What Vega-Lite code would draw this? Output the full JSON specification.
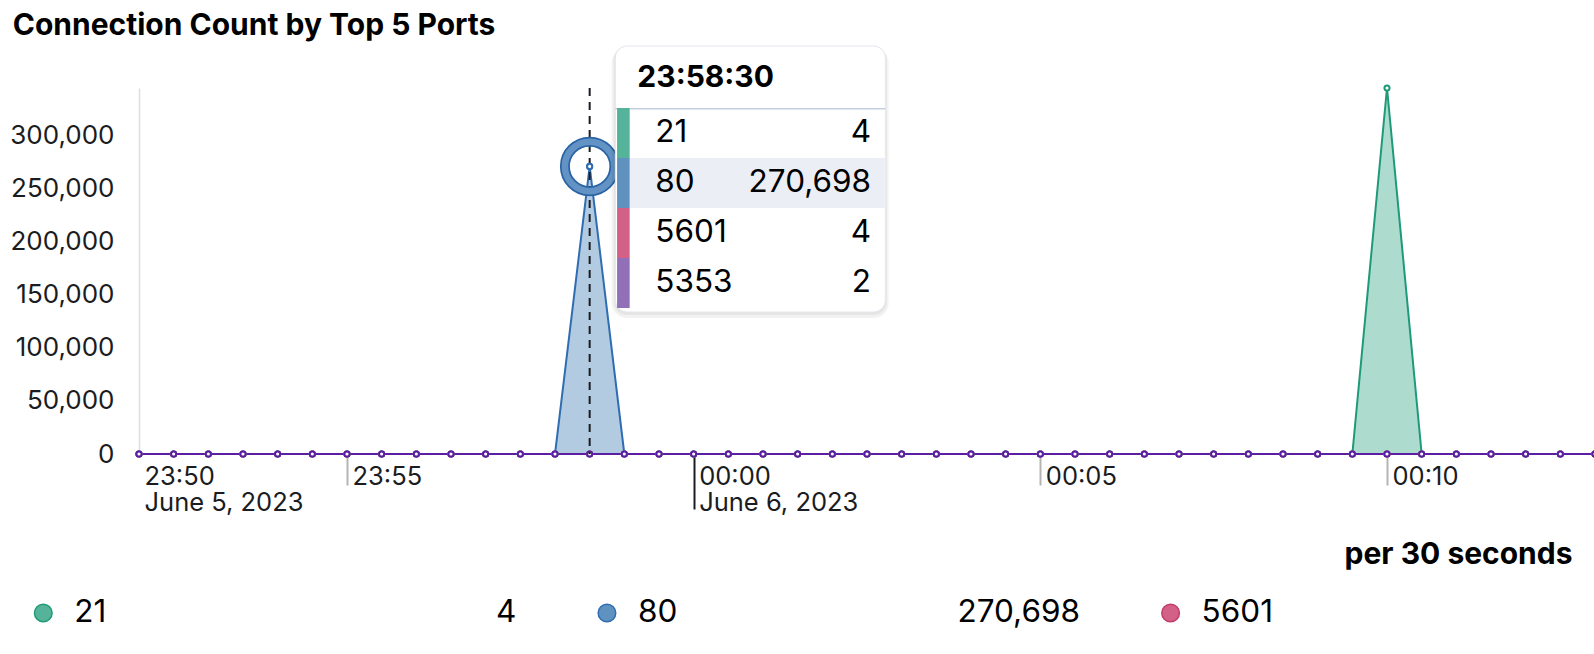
{
  "$schema": "https://vega.github.io/schema/vega-lite/v6.json",
  "background": "white",
  "padding": {"left": 9, "top": 11, "right": 0, "bottom": 0},
  "config": {
    "view": {"stroke": null},
    "font": "Inter",
    "text": {"font": "Inter", "color": "#1a1c21"}
  },
  "title": {"text": "Connection Count by Top 5 Ports", "anchor": "start", "frame": "bounds", "fontSize": 30, "fontWeight": "bold", "color": "#000000", "font": "Inter", "offset": 4.5, "dx": 3},
  "datasets": {
    "counts": [
      {"t": "2023-06-05T23:52:00", "21": 3, "80": 6, "5601": 4, "5353": 2},
      {"t": "2023-06-05T23:52:30", "21": 4, "80": 5, "5601": 4, "5353": 2},
      {"t": "2023-06-05T23:53:00", "21": 4, "80": 7, "5601": 4, "5353": 2},
      {"t": "2023-06-05T23:53:30", "21": 3, "80": 6, "5601": 4, "5353": 2},
      {"t": "2023-06-05T23:54:00", "21": 4, "80": 5, "5601": 4, "5353": 3},
      {"t": "2023-06-05T23:54:30", "21": 4, "80": 8, "5601": 4, "5353": 2},
      {"t": "2023-06-05T23:55:00", "21": 5, "80": 6, "5601": 4, "5353": 2},
      {"t": "2023-06-05T23:55:30", "21": 4, "80": 5, "5601": 4, "5353": 2},
      {"t": "2023-06-05T23:56:00", "21": 4, "80": 6, "5601": 4, "5353": 2},
      {"t": "2023-06-05T23:56:30", "21": 3, "80": 7, "5601": 4, "5353": 2},
      {"t": "2023-06-05T23:57:00", "21": 4, "80": 6, "5601": 4, "5353": 3},
      {"t": "2023-06-05T23:57:30", "21": 4, "80": 5, "5601": 4, "5353": 2},
      {"t": "2023-06-05T23:58:00", "21": 4, "80": 9, "5601": 4, "5353": 2},
      {"t": "2023-06-05T23:58:30", "21": 4, "80": 270698, "5601": 4, "5353": 2},
      {"t": "2023-06-05T23:59:00", "21": 4, "80": 12, "5601": 4, "5353": 2},
      {"t": "2023-06-05T23:59:30", "21": 3, "80": 6, "5601": 4, "5353": 2},
      {"t": "2023-06-06T00:00:00", "21": 4, "80": 5, "5601": 4, "5353": 2},
      {"t": "2023-06-06T00:00:30", "21": 4, "80": 6, "5601": 4, "5353": 2},
      {"t": "2023-06-06T00:01:00", "21": 5, "80": 7, "5601": 4, "5353": 2},
      {"t": "2023-06-06T00:01:30", "21": 4, "80": 5, "5601": 4, "5353": 3},
      {"t": "2023-06-06T00:02:00", "21": 4, "80": 6, "5601": 4, "5353": 2},
      {"t": "2023-06-06T00:02:30", "21": 3, "80": 6, "5601": 4, "5353": 2},
      {"t": "2023-06-06T00:03:00", "21": 4, "80": 8, "5601": 4, "5353": 2},
      {"t": "2023-06-06T00:03:30", "21": 4, "80": 5, "5601": 4, "5353": 2},
      {"t": "2023-06-06T00:04:00", "21": 4, "80": 6, "5601": 4, "5353": 2},
      {"t": "2023-06-06T00:04:30", "21": 5, "80": 7, "5601": 4, "5353": 3},
      {"t": "2023-06-06T00:05:00", "21": 4, "80": 6, "5601": 4, "5353": 2},
      {"t": "2023-06-06T00:05:30", "21": 4, "80": 5, "5601": 4, "5353": 2},
      {"t": "2023-06-06T00:06:00", "21": 3, "80": 6, "5601": 4, "5353": 2},
      {"t": "2023-06-06T00:06:30", "21": 4, "80": 7, "5601": 4, "5353": 2},
      {"t": "2023-06-06T00:07:00", "21": 4, "80": 6, "5601": 4, "5353": 2},
      {"t": "2023-06-06T00:07:30", "21": 4, "80": 5, "5601": 4, "5353": 3},
      {"t": "2023-06-06T00:08:00", "21": 5, "80": 6, "5601": 4, "5353": 2},
      {"t": "2023-06-06T00:08:30", "21": 4, "80": 8, "5601": 4, "5353": 2},
      {"t": "2023-06-06T00:09:00", "21": 4, "80": 6, "5601": 4, "5353": 2},
      {"t": "2023-06-06T00:09:30", "21": 6, "80": 5, "5601": 4, "5353": 2},
      {"t": "2023-06-06T00:10:00", "21": 344500, "80": 6, "5601": 4, "5353": 2},
      {"t": "2023-06-06T00:10:30", "21": 7, "80": 6, "5601": 4, "5353": 2},
      {"t": "2023-06-06T00:11:00", "21": 4, "80": 5, "5601": 4, "5353": 3},
      {"t": "2023-06-06T00:11:30", "21": 4, "80": 7, "5601": 4, "5353": 2},
      {"t": "2023-06-06T00:12:00", "21": 3, "80": 6, "5601": 4, "5353": 2},
      {"t": "2023-06-06T00:12:30", "21": 4, "80": 5, "5601": 4, "5353": 2},
      {"t": "2023-06-06T00:13:00", "21": 4, "80": 6, "5601": 4, "5353": 2}
    ]
  },
  "spacing": 28,
  "vconcat": [
    {
      "width": 1456,
      "height": 366,
      "data": {"name": "counts", "format": {"parse": {"t": "date"}}},
      "resolve": {"scale": {"y": "independent"}, "axis": {"y": "independent"}},
      "layer": [
        {
          "transform": [{"fold": ["21", "80", "5601", "5353"], "as": ["port", "count"]}],
          "layer": [
            {
              "mark": {"type": "area", "fillOpacity": 0.48},
              "encoding": {
                "x": {
                  "field": "t", "type": "temporal",
                  "scale": {"domain": [{"year": 2023, "month": 6, "date": 5, "hours": 23, "minutes": 52}, {"year": 2023, "month": 6, "date": 6, "hours": 0, "minutes": 13}]},
                  "axis": {
                    "values": [
                      {"year": 2023, "month": 6, "date": 5, "hours": 23, "minutes": 52},
                      {"year": 2023, "month": 6, "date": 5, "hours": 23, "minutes": 55},
                      {"year": 2023, "month": 6, "date": 6, "hours": 0, "minutes": 0},
                      {"year": 2023, "month": 6, "date": 6, "hours": 0, "minutes": 5},
                      {"year": 2023, "month": 6, "date": 6, "hours": 0, "minutes": 10}
                    ],
                    "labelExpr": "minutes(datum.value) % 5 != 0 ? [timeFormat(datum.value - (minutes(datum.value) % 5) * 60000, '%H:%M'), timeFormat(datum.value, '%B %-d, %Y')] : (hours(datum.value) == 0 && minutes(datum.value) == 0 ? [timeFormat(datum.value, '%H:%M'), timeFormat(datum.value, '%B %-d, %Y')] : timeFormat(datum.value, '%H:%M'))",
                    "labelAlign": "left", "labelBaseline": "top", "labelOffset": 5, "labelPadding": -45,
                    "labelLineHeight": 26, "labelFontSize": 25.5, "labelColor": "#1a1c21", "labelFont": "Inter",
                    "labelFlush": false, "labelOverlap": false, "labelBound": false,
                    "tickSize": 55, "tickWidth": 2,
                    "tickColor": {"condition": {"test": "hours(datum.value) == 0 && minutes(datum.value) == 0", "value": "#1a1c21"}, "value": "#b4b4b4"},
                    "tickDash": {"condition": {"test": "hours(datum.value) == 0 && minutes(datum.value) == 0", "value": [60, 0]}, "value": [31, 100]},
                    "tickOpacity": {"condition": {"test": "minutes(datum.value) % 5 != 0", "value": 0}, "value": 1},
                    "domain": false, "grid": false,
                    "title": "per 30 seconds", "titleFontSize": 30, "titleFontWeight": "bold", "titleColor": "#000000", "titleFont": "Inter",
                    "titleAnchor": "end", "titleAlign": "right", "titleX": 1433, "titleY": 100, "titleBaseline": "middle"
                  }
                },
                "y": {
                  "field": "count", "type": "quantitative", "stack": null,
                  "scale": {"nice": false, "zero": true},
                  "axis": {
                    "values": [0, 50000, 100000, 150000, 200000, 250000, 300000],
                    "labelExpr": "format(datum.value, ',')",
                    "ticks": false, "tickSize": 0, "labelPadding": 25,
                    "labelFontSize": 26, "labelColor": "#1a1c21", "labelFont": "Inter",
                    "domain": true, "domainColor": "#d9dee8", "domainWidth": 1.5,
                    "grid": false, "title": null, "minExtent": 125, "maxExtent": 125
                  }
                },
                "fill": {"field": "port", "type": "nominal", "scale": {"domain": ["21", "80", "5601", "5353"], "range": ["#54B399", "#6092C0", "#D36086", "#9170B8"]}, "legend": null}
              }
            },
            {
              "mark": {"type": "line", "strokeWidth": 2},
              "encoding": {
                "x": {"field": "t", "type": "temporal"},
                "y": {"field": "count", "type": "quantitative", "stack": null},
                "stroke": {"field": "port", "type": "nominal", "scale": {"domain": ["21", "80", "5601", "5353"], "range": ["#1f9a78", "#2f6db2", "#c43b6d", "#5c1fa3"]}, "legend": null}
              }
            },
            {
              "mark": {"type": "point", "shape": "circle", "filled": false, "fill": "white", "fillOpacity": 1, "size": 26, "strokeWidth": 2, "opacity": 1},
              "encoding": {
                "x": {"field": "t", "type": "temporal"},
                "y": {"field": "count", "type": "quantitative", "stack": null},
                "stroke": {"field": "port", "type": "nominal", "legend": null}
              }
            },
            {
              "transform": [
                {"filter": {"field": "t", "equal": {"year": 2023, "month": 6, "date": 5, "hours": 23, "minutes": 58, "seconds": 30}}},
                {"filter": "datum.port == '80'"}
              ],
              "mark": {"type": "rule", "strokeDash": [8, 6], "strokeWidth": 2, "color": "#1a1c21"},
              "encoding": {"x": {"field": "t", "type": "temporal"}}
            },
            {
              "transform": [
                {"filter": {"field": "t", "equal": {"year": 2023, "month": 6, "date": 5, "hours": 23, "minutes": 58, "seconds": 30}}},
                {"filter": "datum.port == '80'"}
              ],
              "mark": {"type": "point", "shape": "circle", "filled": false, "size": 2450, "strokeWidth": 10, "stroke": "#2a64a4", "opacity": 1},
              "encoding": {"x": {"field": "t", "type": "temporal"}, "y": {"field": "count", "type": "quantitative", "stack": null}}
            },
            {
              "transform": [
                {"filter": {"field": "t", "equal": {"year": 2023, "month": 6, "date": 5, "hours": 23, "minutes": 58, "seconds": 30}}},
                {"filter": "datum.port == '80'"}
              ],
              "mark": {"type": "point", "shape": "circle", "filled": false, "size": 2450, "strokeWidth": 6.5, "stroke": "#6393c4", "opacity": 1},
              "encoding": {"x": {"field": "t", "type": "temporal"}, "y": {"field": "count", "type": "quantitative", "stack": null}}
            },
            {
              "transform": [
                {"filter": {"field": "t", "equal": {"year": 2023, "month": 6, "date": 5, "hours": 23, "minutes": 58, "seconds": 30}}},
                {"filter": "datum.port == '80'"}
              ],
              "mark": {"type": "point", "shape": "circle", "filled": false, "fill": "white", "fillOpacity": 1, "size": 26, "strokeWidth": 2, "opacity": 1},
              "encoding": {"x": {"field": "t", "type": "temporal"}, "y": {"field": "count", "type": "quantitative", "stack": null}, "stroke": {"field": "port", "type": "nominal", "legend": null}}
            }
          ]
        },
        {
          "transform": [
            {"filter": {"field": "t", "equal": {"year": 2023, "month": 6, "date": 5, "hours": 23, "minutes": 58, "seconds": 30}}}
          ],
          "layer": [
            {
              "mark": {"type": "rect", "fill": "#000000", "opacity": 0.05, "cornerRadius": 15, "xOffset": 22, "x2Offset": 299, "yOffset": -10, "y2Offset": 10},
              "encoding": {
                "x": {"field": "t", "type": "temporal"},
                "x2": {"field": "t"},
                "y": {"datum": "time", "type": "nominal", "bandPosition": 0, "scale": {"type": "band", "domain": ["time", "21", "80", "5601", "5353"], "range": [-30, 220], "paddingInner": 0, "paddingOuter": 0}, "axis": null},
                "y2": {"datum": "5353", "bandPosition": 1}
              }
            },
            {
              "mark": {"type": "rect", "fill": "#000000", "opacity": 0.05, "cornerRadius": 13, "xOffset": 24, "x2Offset": 297, "yOffset": -12, "y2Offset": 7},
              "encoding": {
                "x": {"field": "t", "type": "temporal"},
                "x2": {"field": "t"},
                "y": {"datum": "time", "type": "nominal", "bandPosition": 0},
                "y2": {"datum": "5353", "bandPosition": 1}
              }
            },
            {
              "mark": {"type": "rect", "fill": "#ffffff", "stroke": "#e4e7ee", "strokeWidth": 1, "cornerRadius": 12, "xOffset": 25.7, "x2Offset": 295.7, "yOffset": -12, "y2Offset": 4},
              "encoding": {
                "x": {"field": "t", "type": "temporal"},
                "x2": {"field": "t"},
                "y": {"datum": "time", "type": "nominal", "bandPosition": 0},
                "y2": {"datum": "5353", "bandPosition": 1}
              }
            },
            {
              "mark": {"type": "text", "align": "left", "baseline": "middle", "dx": 47.7, "dy": -5, "fontSize": 30, "fontWeight": "bold", "color": "#000000"},
              "encoding": {
                "x": {"field": "t", "type": "temporal"},
                "y": {"datum": "time", "type": "nominal"},
                "text": {"field": "t", "type": "temporal", "format": "%H:%M:%S"}
              }
            },
            {
              "mark": {"type": "rect", "fill": "#c5cde0", "xOffset": 25.7, "x2Offset": 295.7, "y2Offset": 1.5},
              "encoding": {
                "x": {"field": "t", "type": "temporal"},
                "x2": {"field": "t"},
                "y": {"datum": "21", "type": "nominal", "bandPosition": 0},
                "y2": {"datum": "21", "bandPosition": 0}
              }
            },
            {
              "transform": [{"fold": ["21", "80", "5601", "5353"], "as": ["port", "count"]}, {"filter": "datum.port == '80'"}],
              "mark": {"type": "rect", "fill": "#ebeef5", "xOffset": 40, "x2Offset": 295},
              "encoding": {
                "x": {"field": "t", "type": "temporal"},
                "x2": {"field": "t"},
                "y": {"field": "port", "type": "nominal"}
              }
            },
            {
              "transform": [{"fold": ["21", "80", "5601", "5353"], "as": ["port", "count"]}],
              "mark": {"type": "rect", "xOffset": 27.4, "x2Offset": 40},
              "encoding": {
                "x": {"field": "t", "type": "temporal"},
                "x2": {"field": "t"},
                "y": {"field": "port", "type": "nominal"},
                "fill": {"field": "port", "type": "nominal", "legend": null}
              }
            },
            {
              "transform": [{"fold": ["21", "80", "5601", "5353"], "as": ["port", "count"]}],
              "mark": {"type": "text", "align": "left", "baseline": "middle", "dx": 65.7, "fontSize": 31.5, "color": "#000000"},
              "encoding": {
                "x": {"field": "t", "type": "temporal"},
                "y": {"field": "port", "type": "nominal"},
                "text": {"field": "port", "type": "nominal"}
              }
            },
            {
              "transform": [{"fold": ["21", "80", "5601", "5353"], "as": ["port", "count"]}],
              "mark": {"type": "text", "align": "right", "baseline": "middle", "dx": 281.4, "fontSize": 31.5, "color": "#000000"},
              "encoding": {
                "x": {"field": "t", "type": "temporal"},
                "y": {"field": "port", "type": "nominal"},
                "text": {"field": "count", "type": "quantitative", "format": ","}
              }
            }
          ]
        }
      ]
    },
    {
      "width": 1456,
      "height": 30,
      "data": {"name": "counts", "format": {"parse": {"t": "date"}}},
      "transform": [
        {"filter": {"field": "t", "equal": {"year": 2023, "month": 6, "date": 5, "hours": 23, "minutes": 58, "seconds": 30}}},
        {"fold": ["21", "80", "5601", "5353"], "as": ["port", "count"]},
        {"filter": {"field": "port", "oneOf": ["21", "80", "5601"]}}
      ],
      "encoding": {
        "x": {"field": "port", "type": "nominal", "scale": {"type": "point", "domain": ["21", "80", "5601"], "range": [-95.7, 1031.6], "padding": 0}, "axis": null}
      },
      "layer": [
        {
          "mark": {"type": "point", "shape": "circle", "filled": true, "size": 310, "strokeWidth": 1.5, "opacity": 1},
          "encoding": {
            "fill": {"field": "port", "type": "nominal", "scale": {"domain": ["21", "80", "5601", "5353"], "range": ["#54B399", "#6092C0", "#D36086", "#9170B8"]}, "legend": null},
            "stroke": {"field": "port", "type": "nominal", "scale": {"domain": ["21", "80", "5601", "5353"], "range": ["#1f9a78", "#2f6db2", "#c43b6d", "#5c1fa3"]}, "legend": null}
          }
        },
        {
          "mark": {"type": "text", "align": "left", "baseline": "middle", "dx": 31, "fontSize": 31.5, "color": "#000000"},
          "encoding": {"text": {"field": "port", "type": "nominal"}}
        },
        {
          "transform": [{"filter": {"field": "port", "oneOf": ["21", "80"]}}],
          "mark": {"type": "text", "align": "right", "baseline": "middle", "dx": 473, "fontSize": 31.5, "color": "#000000"},
          "encoding": {"text": {"field": "count", "type": "quantitative", "format": ","}}
        }
      ]
    }
  ]
}
